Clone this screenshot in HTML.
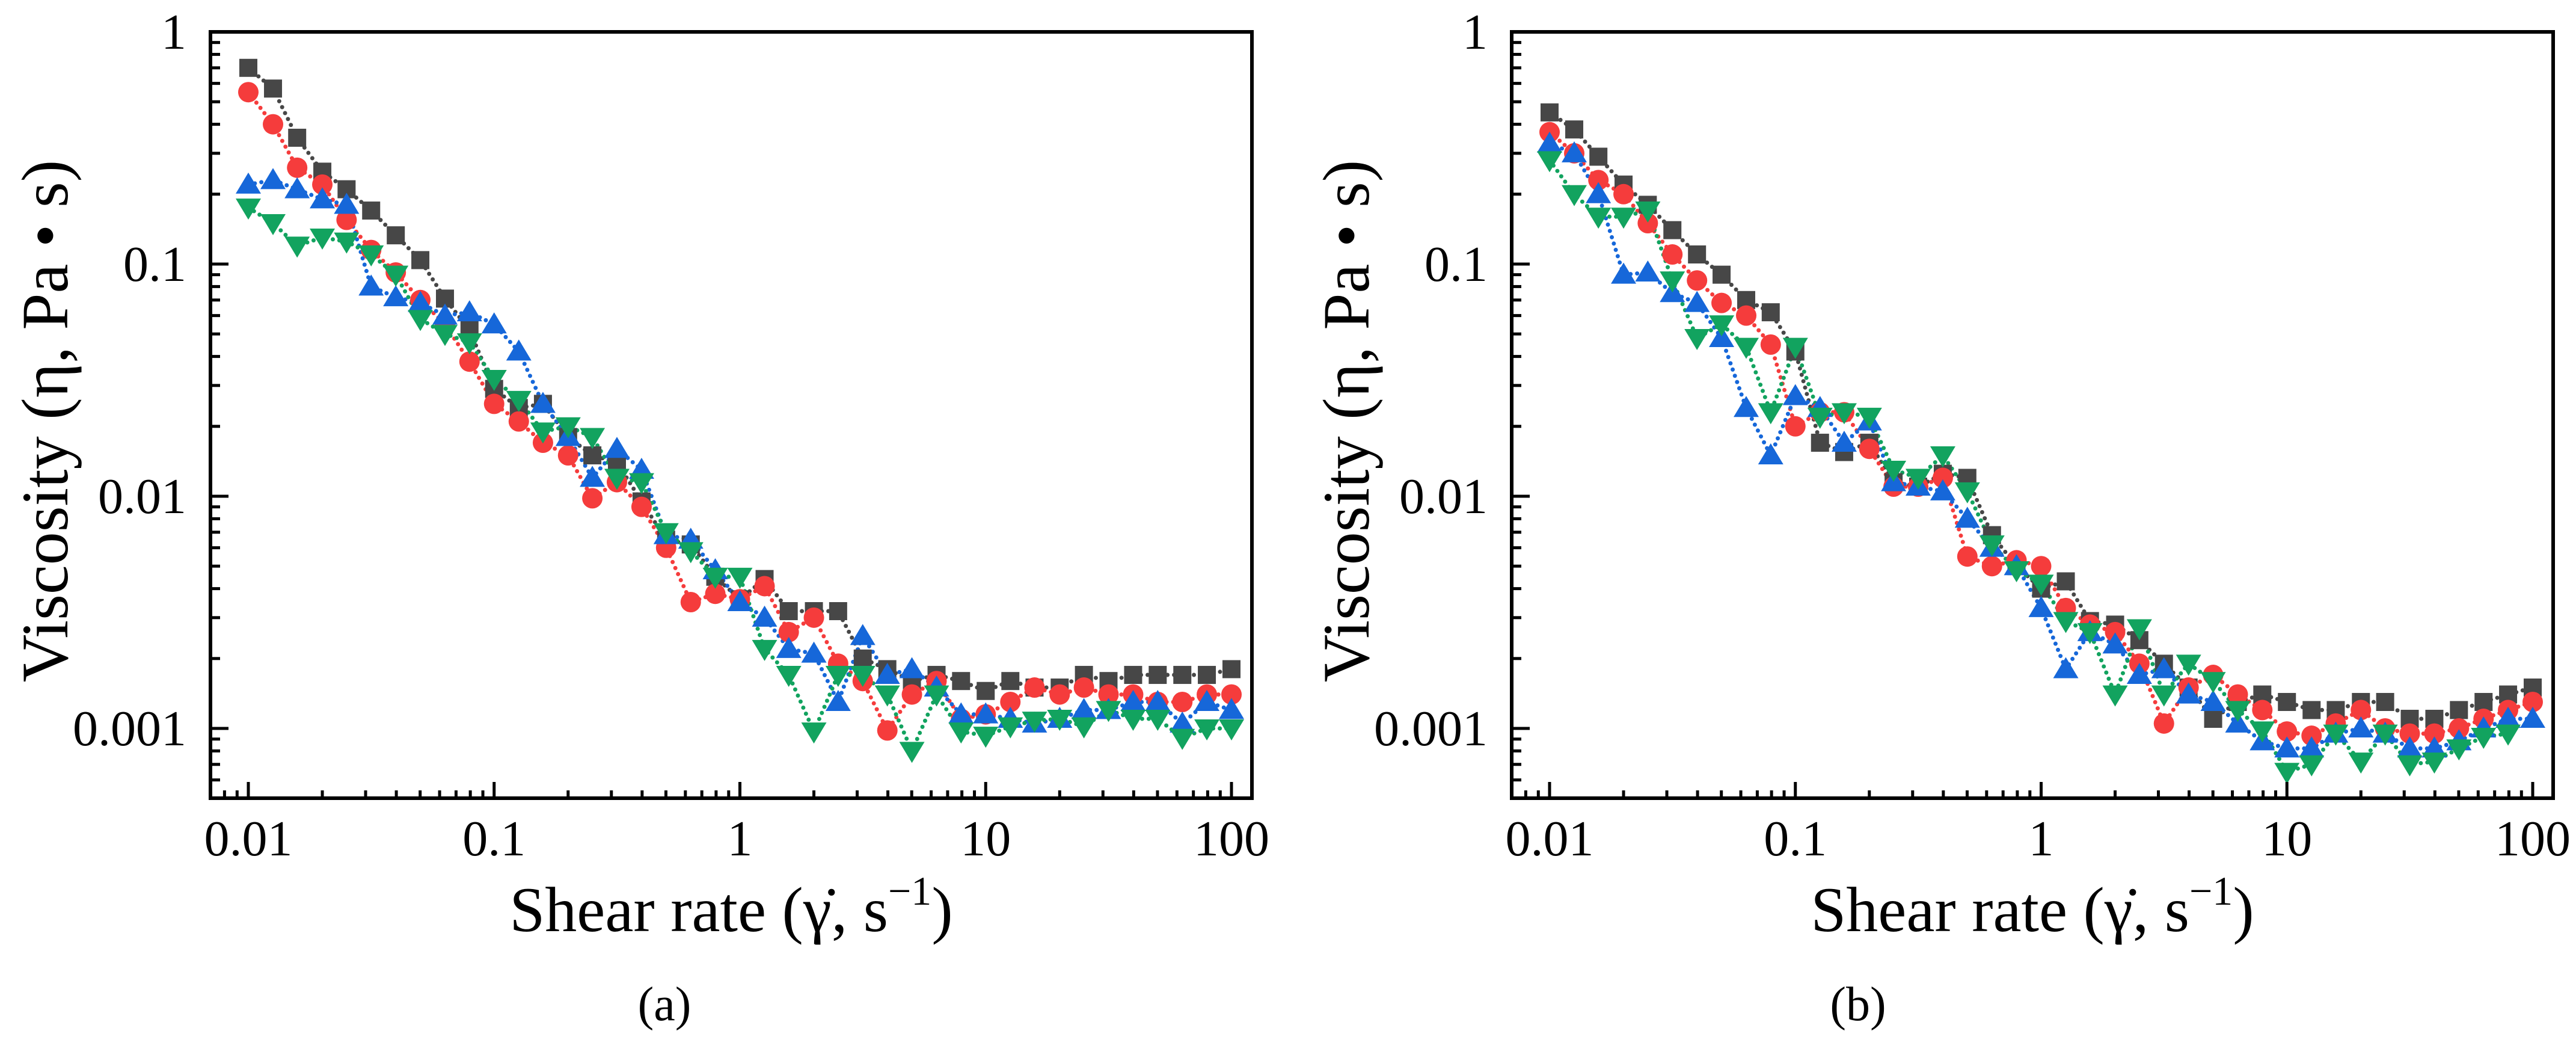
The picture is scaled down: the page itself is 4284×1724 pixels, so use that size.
<!DOCTYPE html>
<html><head><meta charset="utf-8"><style>
html,body{margin:0;padding:0;background:#fff;}
svg{display:block;}
svg text{font-family:"Liberation Serif","Times New Roman",serif;fill:#000;}
</style></head><body>
<svg id="chart" width="4284" height="1724" viewBox="0 0 4284 1724" font-family="Liberation Serif, serif" xmlns="http://www.w3.org/2000/svg"></svg>
<script>
const shearRates=[0.01,0.0126,0.0158,0.02,0.0251,0.0316,0.0398,0.0501,0.0631,0.0794,0.1,0.126,0.158,0.2,0.251,0.316,0.398,0.501,0.631,0.794,1,1.26,1.58,2,2.51,3.16,3.98,5.01,6.31,7.94,10,12.6,15.8,20,25.1,31.6,39.8,50.1,63.1,79.4,100];
const xTickLabels=["0.01","0.1","1","10","100"];
const yTickLabels=["1","0.1","0.01","0.001"];
const aBlack=[0.70,0.57,0.35,0.25,0.21,0.17,0.133,0.104,0.071,0.052,0.029,0.024,0.025,0.018,0.015,0.014,0.0095,0.0065,0.0062,0.0045,0.0036,0.0044,0.0032,0.0032,0.0032,0.0020,0.0018,0.0016,0.0017,0.0016,0.00145,0.0016,0.0015,0.0015,0.0017,0.0016,0.0017,0.0017,0.0017,0.0017,0.0018];
const aRed=[0.55,0.40,0.26,0.22,0.155,0.115,0.092,0.070,0.055,0.038,0.025,0.021,0.017,0.015,0.0098,0.0115,0.009,0.006,0.0035,0.0038,0.0036,0.0041,0.0026,0.0030,0.0019,0.0016,0.00098,0.0014,0.0016,0.0011,0.00115,0.0013,0.0015,0.0014,0.0015,0.0014,0.0014,0.0013,0.0013,0.0014,0.0014];
const aBlue=[0.22,0.23,0.21,0.19,0.18,0.08,0.072,0.068,0.060,0.062,0.055,0.042,0.025,0.018,0.012,0.016,0.013,0.0068,0.0065,0.0048,0.0035,0.0030,0.0022,0.0021,0.0013,0.0025,0.0017,0.0018,0.0015,0.00115,0.00115,0.0011,0.00105,0.0011,0.0012,0.0012,0.0013,0.0013,0.00105,0.0013,0.0012];
const aGreen=[0.175,0.15,0.12,0.13,0.125,0.11,0.09,0.058,0.050,0.046,0.032,0.026,0.019,0.020,0.018,0.012,0.0115,0.007,0.0058,0.0045,0.0045,0.0022,0.0017,0.00097,0.0017,0.0017,0.0014,0.0008,0.0014,0.00097,0.00093,0.00102,0.00108,0.0011,0.00102,0.0012,0.0011,0.0011,0.00091,0.001,0.001];
const bBlack=[0.45,0.38,0.29,0.22,0.18,0.14,0.11,0.09,0.07,0.062,0.042,0.017,0.0155,0.017,0.0115,0.011,0.0125,0.012,0.0068,0.005,0.004,0.0043,0.0029,0.0028,0.0024,0.0019,0.0015,0.0011,0.0013,0.0014,0.0013,0.0012,0.0012,0.0013,0.0013,0.0011,0.0011,0.0012,0.0013,0.0014,0.0015];
const bRed=[0.37,0.30,0.23,0.20,0.15,0.11,0.085,0.068,0.060,0.045,0.020,0.023,0.023,0.016,0.011,0.011,0.012,0.0055,0.005,0.0053,0.005,0.0033,0.0028,0.0026,0.0019,0.00105,0.0015,0.0017,0.0014,0.0012,0.00097,0.00093,0.00105,0.0012,0.001,0.00095,0.00095,0.001,0.0011,0.0012,0.0013];
const bBlue=[0.33,0.30,0.20,0.09,0.092,0.075,0.068,0.048,0.024,0.015,0.027,0.024,0.017,0.021,0.0115,0.011,0.0105,0.008,0.006,0.005,0.0033,0.0018,0.0026,0.0023,0.0017,0.0018,0.0014,0.0013,0.00105,0.00088,0.00082,0.00082,0.00095,0.001,0.00095,0.00082,0.00082,0.00088,0.001,0.0011,0.0011];
const bGreen=[0.28,0.20,0.16,0.16,0.17,0.085,0.048,0.055,0.044,0.023,0.044,0.022,0.023,0.022,0.013,0.012,0.015,0.0105,0.0062,0.0048,0.0042,0.0029,0.0026,0.0014,0.0027,0.0014,0.0019,0.0016,0.0012,0.00098,0.00065,0.0007,0.00095,0.00072,0.00095,0.0007,0.00072,0.00082,0.00092,0.00095,null];

const NS="http://www.w3.org/2000/svg";
const svgEl=document.getElementById('chart');
function mk(tag,attrs,parent){const e=document.createElementNS(NS,tag);for(const k in attrs)e.setAttribute(k,attrs[k]);(parent||svgEl).appendChild(e);return e;}
const FF='Liberation Serif, Times New Roman, serif';

const panels=[
 {id:'a',left:350,x0:413,series:[aBlack,aRed,aBlue,aGreen],cap:'(a)',capX:1105},
 {id:'b',left:2514,x0:2577,series:[bBlack,bRed,bBlue,bGreen],cap:'(b)',capX:3090}
];
const plotTop=53,plotBottom=1327,dec=408.75,ydec=386,W=1732;
const colors=['#474747','#f53c3c','#1667d9','#12a35f'];
const names=['squares','circles','up-triangles','down-triangles'];

panels.forEach(p=>{
  const X=v=>p.x0+(Math.log10(v)+2)*dec;
  const Y=v=>plotTop-Math.log10(v)*ydec;
  const g=mk('g',{'font-family':FF});
  
  
  p.series.forEach((vals,si)=>{
    const pts=[];
    vals.forEach((v,i)=>{if(v!=null)pts.push(X(shearRates[i]).toFixed(1)+','+Y(v).toFixed(1));});
    const line=mk('polyline',{points:pts.join(' '),fill:'none',stroke:colors[si],'stroke-width':7,'stroke-dasharray':'0 11','stroke-linecap':'round'},g);
    
    
  });
  p.series.forEach((vals,si)=>{
    const sg=mk('g',{fill:colors[si]},g);
    
    
    vals.forEach((v,i)=>{
      if(v==null)return;
      const cx=X(shearRates[i]),cy=Y(v);let m;
      if(si===0)m=mk('rect',{x:cx-15,y:cy-15,width:30,height:30},sg);
      else if(si===1)m=mk('circle',{cx:cx,cy:cy,r:17},sg);
      else if(si===2)m=mk('polygon',{points:`${cx},${cy-20} ${cx+21},${cy+15} ${cx-21},${cy+15}`},sg);
      else m=mk('polygon',{points:`${cx},${cy+20} ${cx+21},${cy-15} ${cx-21},${cy-15}`},sg);
      
      
    });
  });
  const fr=mk('rect',{x:p.left,y:plotTop,width:W,height:plotBottom-plotTop,fill:'none',stroke:'#000','stroke-width':6},g);
  
  
  const xt=mk('g',{stroke:'#000','stroke-width':5},g);
  
  
  for(let d=-3;d<=2;d++){for(let k=1;k<=9;k++){const v=k*Math.pow(10,d);const x=X(v);if(x<p.left+4||x>p.left+W-4)continue;const L=k===1?27:13;mk('line',{x1:x,y1:plotBottom,x2:x,y2:plotBottom-L},xt);}}
  const yt=mk('g',{stroke:'#000','stroke-width':5},g);
  
  
  for(let d=-4;d<=0;d++){for(let k=1;k<=9;k++){const v=k*Math.pow(10,d);const y=Y(v);if(y<plotTop+4||y>plotBottom-4)continue;const L=k===1?30:16;mk('line',{x1:p.left,y1:y,x2:p.left+L,y2:y},yt);}}
  xTickLabels.forEach(s=>{const t=mk('text',{x:X(parseFloat(s)),y:1422,'font-size':84,'text-anchor':'middle','font-family':FF},g);t.textContent=s;
    });
  yTickLabels.forEach(s=>{const t=mk('text',{x:p.left-40,y:Y(parseFloat(s))+28,'font-size':84,'text-anchor':'end','font-family':FF},g);t.textContent=s;
    });
  const cy=700,cx=p.left-276;
  const yl=mk('text',{x:cx,y:cy,'font-size':110,'text-anchor':'middle',transform:`rotate(-90 ${cx} ${cy})`,dy:38,'font-family':FF},g);
  yl.textContent='Viscosity (η, Pa • s)';
  
  
  const xl=mk('text',{x:p.left+W/2,y:1548,'font-size':106,'text-anchor':'middle','font-family':FF},g);
  
  
  xl.appendChild(document.createTextNode('Shear rate (γ̇, s'));
  const sup=mk('tspan',{'font-size':68,dy:-44},xl);sup.textContent='−1';
  const cl=mk('tspan',{dy:44,'font-size':106},xl);cl.textContent=')';
  const cap=mk('text',{x:p.capX,y:1696,'font-size':80,'text-anchor':'middle','font-family':FF},g);
  cap.textContent=p.cap;
  
  
});
</script>
</body></html>
